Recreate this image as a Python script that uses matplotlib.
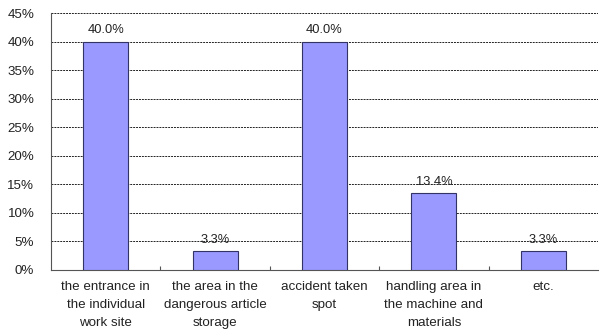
import matplotlib
matplotlib.use("Agg")
import matplotlib.pyplot as plt
from matplotlib.ticker import MultipleLocator, FuncFormatter

categories = ["the entrance in\nthe individual\nwork site",
              "the area in the\ndangerous article\nstorage",
              "accident taken\nspot",
              "handling area in\nthe machine and\nmaterials",
              "etc."]
values = [40.0, 3.3, 40.0, 13.4, 3.3]

plt.rcParams['font.family'] = ['Liberation Sans', 'DejaVu Sans']
fig = plt.figure(figsize=(6.02, 3.32), dpi=100)
ax = fig.add_axes([51/602, 1-270/332, 547/602, 257/332])

x = list(range(len(values)))
ax.bar(x, values, width=0.41, color='#9999FF', edgecolor='#333366', linewidth=0.8, zorder=3)
for xi, v in zip(x, values):
    ax.text(xi, v + 0.9, f"{v:.1f}%", ha='center', va='bottom', fontsize=9.3, color='#222222', zorder=4)

ax.set_xlim(-0.5, len(values) - 0.5)
ax.set_ylim(0, 45)
ax.yaxis.set_major_locator(MultipleLocator(5))
ax.yaxis.set_major_formatter(FuncFormatter(lambda v, p: f"{int(round(v))}%"))
ax.yaxis.grid(True, linestyle=(0, (2, 1)), color='#222222', linewidth=0.7, zorder=0)
ax.set_axisbelow(True)

ax.set_xticks([i + 0.5 for i in range(len(values) - 1)], minor=False)
ax.set_xticklabels([])
ax.set_xticks(x, minor=True)
ax.set_xticklabels(categories, minor=True, fontsize=9.6, color='#222222', linespacing=1.65)
ax.tick_params(axis='x', which='minor', length=0, pad=8)
ax.tick_params(axis='x', which='major', direction='in', length=3, color='#555555')
ax.tick_params(axis='y', length=0, labelsize=9.6, labelcolor='#222222', pad=12)

for s in ['top', 'right']:
    ax.spines[s].set_visible(False)
ax.spines['left'].set_color('#555555')
ax.spines['bottom'].set_color('#555555')

fig.savefig("out.png", dpi=100)
